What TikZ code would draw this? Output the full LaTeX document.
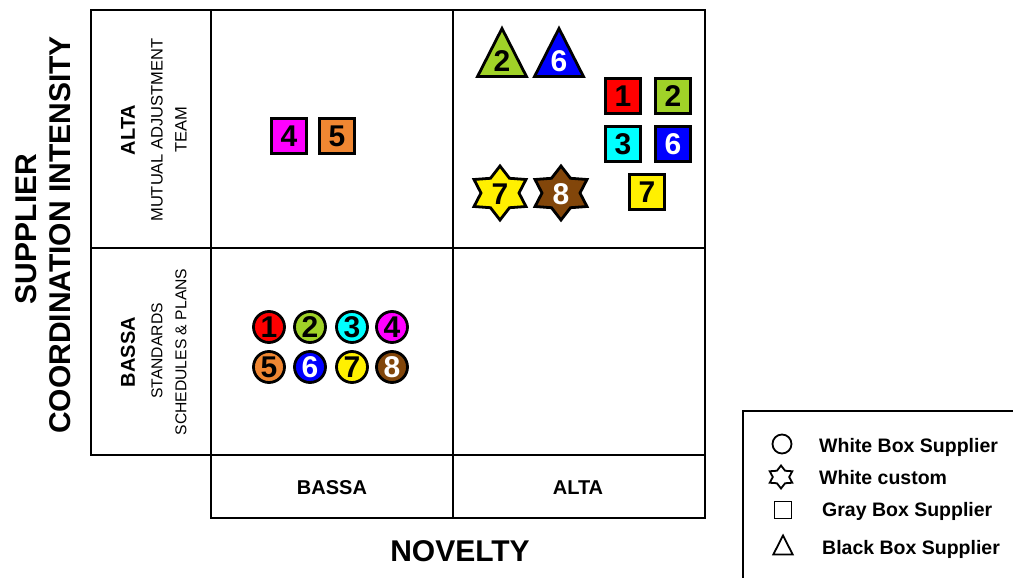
\documentclass[tikz,border=0pt]{standalone}
\usepackage{fontspec}
\setmainfont{Liberation Sans}
\definecolor{cgreen}{RGB}{160,210,40}
\definecolor{corange}{RGB}{240,135,50}
\definecolor{cbrown}{RGB}{130,70,10}
\definecolor{cyellow}{RGB}{255,240,0}
\definecolor{cblue}{RGB}{0,0,255}
\definecolor{ccyan}{RGB}{0,255,255}
\definecolor{cmag}{RGB}{255,0,255}
\definecolor{cred}{RGB}{255,0,0}
\newcommand\hexstar[7]{%
  \draw[#7, shift={(#1,#2)}] (90:#3 and #4) -- (60:#5 and #6) -- (30:#3 and #4) -- (0:#5 and #6)
   -- (-30:#3 and #4) -- (-60:#5 and #6) -- (-90:#3 and #4) -- (-120:#5 and #6)
   -- (-150:#3 and #4) -- (180:#5 and #6) -- (150:#3 and #4) -- (120:#5 and #6) -- cycle;}
\newcommand\tribox[4]{%
  \draw[#4, shift={(#1,#2)}] (0,-#3) -- (1.02*#3,#3) -- (-1.02*#3,#3) -- cycle;}
\tikzset{
  gridline/.style={line width=2.8pt, line cap=rect},
  shp/.style={draw=black, line width=2.8pt, line join=miter},
  numfont/.style={font=\fontsize{30}{30}\selectfont\bfseries},
  circ/.style={shp, circle, minimum size=31pt, inner sep=0pt, numfont},
  sq/.style={shp, rectangle, minimum size=35pt, inner sep=0pt, numfont},
  num/.style={inner sep=0pt, numfont},
  biglab/.style={font=\fontsize{30}{30}\selectfont\bfseries, inner sep=0pt},
  midlab/.style={font=\fontsize{20}{20}\selectfont\bfseries, inner sep=0pt},
  smalllab/.style={font=\fontsize{16.5}{16}\selectfont, inner sep=0pt},
  leglab/.style={font=\fontsize{19.5}{19}\selectfont\bfseries, inner sep=0pt, anchor=base west},
  legshp/.style={draw=black, line width=1.8pt},
}
\begin{document}
\begin{tikzpicture}[x=1pt,y=-1pt]
\useasboundingbox (0,0) rectangle (1013,578);
% grid
\draw[gridline] (91,10) rectangle (705,455);
\draw[gridline] (211,10) -- (211,518) -- (705,518) -- (705,455);
\draw[gridline] (453,10) -- (453,518);
\draw[gridline] (91,248) -- (705,248);
% axis labels
\node[biglab, rotate=90] (sup) at (26,229) {SUPPLIER};
\node[biglab, rotate=90] (coord) at (60,235) {COORDINATION INTENSITY};
\node[biglab] (nov) at (460,551) {NOVELTY};
\node[midlab] (bx) at (332,488) {BASSA};
\node[midlab] (ax) at (578,488) {ALTA};
% row labels
\node[midlab, rotate=90] (altaL) at (128,130) {ALTA};
\node[smalllab, rotate=90] (mut) at (157,130) {MUTUAL ADJUSTMENT};
\node[smalllab, rotate=90] (team) at (181,130) {TEAM};
\node[midlab, rotate=90] (bassaL) at (128,352) {BASSA};
\node[smalllab, rotate=90, font=\fontsize{15.7}{16}\selectfont] (std) at (157,351) {STANDARDS};
\node[smalllab, rotate=90, font=\fontsize{15.7}{16}\selectfont] (sch) at (181,352) {SCHEDULES \& PLANS};
% circles
\node[circ, fill=cred] (c1) at (269,327) {1};
\node[circ, fill=cgreen] (c2) at (310,327) {2};
\node[circ, fill=ccyan] (c3) at (352,327) {3};
\node[circ, fill=cmag] (c4) at (392,327) {4};
\node[circ, fill=corange] (c5) at (269,367) {5};
\node[circ, fill=cblue, text=white] (c6) at (310,367) {6};
\node[circ, fill=cyellow] (c7) at (352,367) {7};
\node[circ, fill=cbrown, text=white] (c8) at (392,367) {8};
% squares
\node[sq, fill=cmag] (s4) at (289,136) {4};
\node[sq, fill=corange] (s5) at (337,136) {5};
\node[sq, fill=cred] (s1) at (623,96) {1};
\node[sq, fill=cgreen] (s2) at (673,96) {2};
\node[sq, fill=ccyan] (s3) at (623,144) {3};
\node[sq, fill=cblue, text=white] (s6) at (673,144) {6};
\node[sq, fill=cyellow] (s7) at (647,192) {7};
% triangles
\tribox{502}{52.5}{24}{shp, fill=cgreen}
\node[num] (t2) at (502,61) {2};
\tribox{559}{52.5}{24}{shp, fill=cblue}
\node[num, text=white] (t6) at (559,61) {6};
% stars
\hexstar{500}{193}{30}{27}{19}{17}{shp, fill=cyellow}
\node[num] (h7) at (500,194) {7};
\hexstar{561}{193}{30}{27}{19}{17}{shp, fill=cbrown}
\node[num, text=white] (h8) at (561,194) {8};
% legend
\draw[line width=2.8pt] (1013,411) -- (743,411) -- (743,578);
\node[legshp, circle, minimum size=19pt, inner sep=0pt] (lc) at (782,444) {};
\hexstar{781}{477}{13}{11.5}{8.2}{7.2}{legshp, line join=miter}
\node[legshp, rectangle, minimum size=17pt, inner sep=0pt] (ls) at (783,510) {};
\tribox{783}{545}{9.5}{legshp}
\node[leglab] (l1) at (819,452) {White Box Supplier};
\node[leglab] (l2) at (819,484) {White custom};
\node[leglab] (l3) at (822,516) {Gray Box Supplier};
\node[leglab] (l4) at (822,554) {Black Box Supplier};
\end{tikzpicture}
\end{document}
